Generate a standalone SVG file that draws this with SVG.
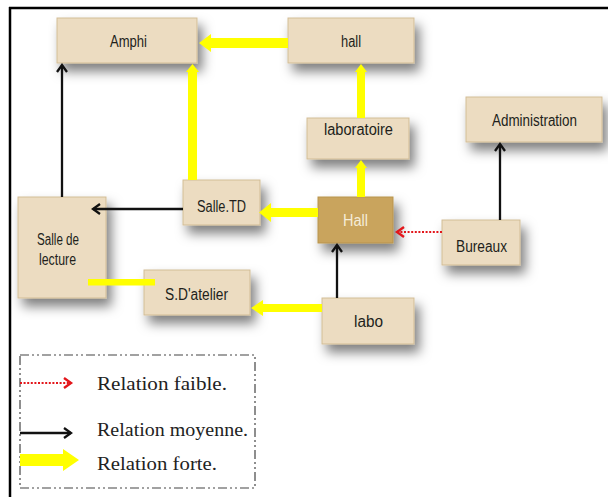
<svg xmlns="http://www.w3.org/2000/svg" width="608" height="497" viewBox="0 0 608 497">
<defs>
<style>
.box{fill:#ecdcc1;stroke:#d2bd95;stroke-width:1;filter:url(#sh)}
.dark{fill:#c9a45d;stroke:#b8934c;stroke-width:1;filter:url(#sh)}
.lbl{font-family:"Liberation Sans",Arial,sans-serif;font-size:16px;fill:#221f1b;text-anchor:middle}
.lblw{font-family:"Liberation Sans",Arial,sans-serif;font-size:16px;fill:#f5ecd8;text-anchor:middle}
.leg{font-family:"Liberation Serif","Times New Roman",serif;font-size:18px;fill:#222}
.blk{stroke:#111;stroke-width:2.3;fill:none;marker-end:url(#mb)}
.red{stroke:#e3161b;stroke-width:2.2;stroke-dasharray:2,1.6;fill:none;marker-end:url(#mr)}
.yel{fill:#ffff00}
</style>
<filter id="sh" x="-40%" y="-40%" width="190%" height="200%">
<feDropShadow dx="5" dy="8" stdDeviation="6" flood-color="#000" flood-opacity="0.5"/>
</filter>
<marker id="mb" markerUnits="userSpaceOnUse" markerWidth="14" markerHeight="14" refX="0" refY="0" viewBox="-10 -7 12 14" orient="auto">
<path d="M-7,-5 L0,0 L-7,5" fill="none" stroke="#111" stroke-width="2.3"/>
</marker>
<marker id="mr" markerUnits="userSpaceOnUse" markerWidth="14" markerHeight="14" refX="0" refY="0" viewBox="-10 -7 12 14" orient="auto">
<path d="M-7,-5 L0,0 L-7,5" fill="none" stroke="#e3161b" stroke-width="2.4"/>
</marker>
</defs>
<rect x="0" y="0" width="608" height="497" fill="#ffffff"/>
<g id="frame" stroke="#000" stroke-width="2.5" fill="none">
<line x1="9" y1="8" x2="608" y2="8"/>
<line x1="10" y1="7" x2="10" y2="497"/>
</g>
<g id="node-amphi"><rect class="box" x="57" y="18" width="140" height="45"/><text class="lbl" x="128.5" y="47" textLength="37" lengthAdjust="spacingAndGlyphs">Amphi</text></g>
<g id="node-hall-top"><rect class="box" x="288" y="18" width="126" height="45"/><text class="lbl" x="351" y="47" textLength="20" lengthAdjust="spacingAndGlyphs">hall</text></g>
<g id="node-laboratoire"><rect class="box" x="307" y="118" width="102" height="41"/><text class="lbl" x="358.5" y="135" textLength="69" lengthAdjust="spacingAndGlyphs">laboratoire</text></g>
<g id="node-administration"><rect class="box" x="466" y="97" width="136" height="45"/><text class="lbl" x="534.5" y="126" textLength="85" lengthAdjust="spacingAndGlyphs">Administration</text></g>
<g id="node-salletd"><rect class="box" x="183" y="180" width="77" height="45"/><text class="lbl" x="221.5" y="212" textLength="49" lengthAdjust="spacingAndGlyphs">Salle.TD</text></g>
<g id="node-hall"><rect class="dark" x="318" y="197" width="75" height="46"/><text class="lblw" x="355.5" y="226" textLength="25" lengthAdjust="spacingAndGlyphs">Hall</text></g>
<g id="node-bureaux"><rect class="box" x="442" y="220" width="78" height="45"/><text class="lbl" x="481.5" y="252" textLength="51" lengthAdjust="spacingAndGlyphs">Bureaux</text></g>
<g id="node-salle-lecture"><rect class="box" x="18" y="197" width="88" height="101"/><text class="lbl" x="58" y="245" textLength="42" lengthAdjust="spacingAndGlyphs">Salle de</text><text class="lbl" x="57.5" y="265" textLength="37" lengthAdjust="spacingAndGlyphs">lecture</text></g>
<g id="node-sdatelier"><rect class="box" x="144" y="270" width="106" height="45"/><text class="lbl" x="196.5" y="300" textLength="63" lengthAdjust="spacingAndGlyphs">S.D'atelier</text></g>
<g id="node-labo"><rect class="box" x="322" y="298" width="92" height="46"/><text class="lbl" x="368.5" y="327" textLength="29" lengthAdjust="spacingAndGlyphs">labo</text></g>
<g id="connectors">
<polygon class="yel" points="288,38 211,38 211,34 199,43 211,52 211,48 288,48"/>
<polygon class="yel" points="188,180 188,72 186,72 192.5,64 199,72 197,72 197,180"/>
<polygon class="yel" points="357,118 357,72 355,72 361,64 367,72 365,72 365,118"/>
<polygon class="yel" points="357,197 357,168 355,168 361,160 367,168 365,168 365,197"/>
<polygon class="yel" points="318,208 271,208 271,203 259,212.5 271,222 271,217 318,217"/>
<polygon class="yel" points="322,304 263,304 263,300 251,308 263,316 263,312 322,312"/>
<rect class="yel" x="88" y="279" width="67" height="6.5"/>
<path class="blk" d="M62,197 V65"/>
<path class="blk" d="M183,209 H93"/>
<path class="blk" d="M337,298 V245"/>
<path class="blk" d="M500,220 V144"/>
<path class="red" d="M442,232 H397"/>
</g>
<g id="legend">
<rect x="20" y="355" width="235" height="133" fill="none" stroke="#444" stroke-width="1.2" stroke-dasharray="9,3,2,3,2,3"/>
<path class="red" d="M20,383 H71"/>
<text class="leg" x="97" y="390" textLength="130" lengthAdjust="spacingAndGlyphs">Relation faible.</text>
<path class="blk" d="M20,433 H71"/>
<text class="leg" x="97" y="436" textLength="151" lengthAdjust="spacingAndGlyphs">Relation moyenne.</text>
<polygon class="yel" points="20,454 63,454 63,449 79,460 63,471 63,466 20,466"/>
<text class="leg" x="97" y="470" textLength="120" lengthAdjust="spacingAndGlyphs">Relation forte.</text>
</g>
</svg>
